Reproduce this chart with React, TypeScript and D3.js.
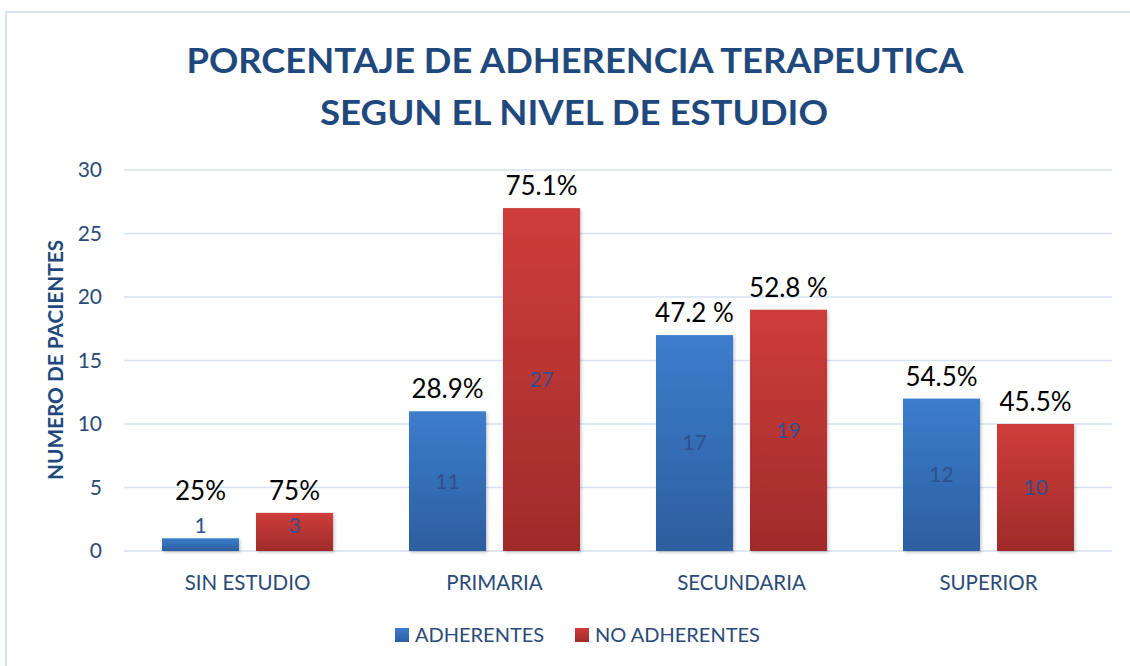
import React from "react";
import * as d3 from "d3";

const categories = ["SIN ESTUDIO", "PRIMARIA", "SECUNDARIA", "SUPERIOR"];
const seriesNames = ["ADHERENTES", "NO ADHERENTES"];
const adherentes = [1, 11, 17, 12];
const noAdherentes = [3, 27, 19, 10];
const pctAdherentes = ["25%", "28.9%", "47.2 %", "54.5%"];
const pctNoAdherentes = ["75%", "75.1%", "52.8 %", "45.5%"];
const yTicks = [0, 5, 10, 15, 20, 25, 30];

const W = 1130;
const H = 666;
const FONT = "Lato, 'Open Sans', sans-serif";
const TEXT_BLUE = "#2b4a78";

export default function App() {
  const y = d3.scaleLinear().domain([0, 30]).range([551, 170]);
  const x0 = d3
    .scaleBand<string>()
    .domain(categories)
    .range([124, 1112])
    .paddingInner(76 / 247)
    .paddingOuter(38 / 247);
  const x1 = d3
    .scaleBand<string>()
    .domain(seriesNames)
    .range([0, x0.bandwidth()])
    .paddingInner(17 / 94)
    .paddingOuter(0);

  const seriesValues = [adherentes, noAdherentes];
  const seriesPct = [pctAdherentes, pctNoAdherentes];
  const grads = ["gradBlue", "gradRed"];
  const legendColors = ["url(#gradBlue)", "url(#gradRed)"];

  return (
    <svg
      width={W}
      height={H}
      style={{ position: "absolute", left: 0, top: 0, background: "#ffffff" }}
    >
      <defs>
        <linearGradient id="gradBlue" x1="0" y1="0" x2="0" y2="1">
          <stop offset="0%" stopColor="#3c7dcd" />
          <stop offset="100%" stopColor="#2d5e9e" />
        </linearGradient>
        <linearGradient id="gradRed" x1="0" y1="0" x2="0" y2="1">
          <stop offset="0%" stopColor="#cf3d3b" />
          <stop offset="100%" stopColor="#9f2b2a" />
        </linearGradient>
        <filter id="shadow" x="-20%" y="-20%" width="140%" height="140%">
          <feDropShadow dx="1.5" dy="1.5" stdDeviation="1.5" floodColor="#000" floodOpacity="0.22" />
        </filter>
      </defs>

      {/* chart border */}
      <path d={`M6,${H} L6,12 L${W},12`} fill="none" stroke="#d7e3f5" strokeWidth={2} />

      {/* title */}
      <text
        x={575}
        y={73}
        textAnchor="middle"
        fontFamily={FONT}
        fontWeight="bold"
        fontSize={35}
        fill="#1f497d"
        textLength={777}
        lengthAdjust="spacingAndGlyphs"
      >
        PORCENTAJE DE ADHERENCIA TERAPEUTICA
      </text>
      <text
        x={574}
        y={125}
        textAnchor="middle"
        fontFamily={FONT}
        fontWeight="bold"
        fontSize={35}
        fill="#1f497d"
        textLength={508}
        lengthAdjust="spacingAndGlyphs"
      >
        SEGUN EL NIVEL DE ESTUDIO
      </text>

      {/* gridlines */}
      {yTicks.map((t) => (
        <line
          key={t}
          x1={124}
          x2={1112}
          y1={y(t)}
          y2={y(t)}
          stroke="#d6e1f1"
          strokeWidth={1.5}
        />
      ))}

      {/* y tick labels */}
      {yTicks.map((t) => (
        <text
          key={"l" + t}
          x={102}
          y={y(t)}
          dy="0.35em"
          textAnchor="end"
          fontFamily={FONT}
          fontSize={21}
          fill={TEXT_BLUE}
        >
          {t}
        </text>
      ))}

      {/* y axis title */}
      <text
        transform={`translate(63,360) rotate(-90)`}
        textAnchor="middle"
        fontFamily={FONT}
        fontWeight="bold"
        fontSize={20}
        fill="#1f497d"
        textLength={240}
        lengthAdjust="spacingAndGlyphs"
      >
        NUMERO DE PACIENTES
      </text>

      {/* bars */}
      {categories.map((c, i) => (
        <g key={c} transform={`translate(${x0(c)},0)`}>
          {seriesNames.map((s, j) => {
            const v = seriesValues[j][i];
            const bx = x1(s)!;
            const bw = x1.bandwidth();
            const top = y(v);
            const labelY = Math.min(top - 22, y(4.7));
            const valY = Math.min((top + y(0)) / 2, y(0) - 25);
            return (
              <g key={s}>
                <rect
                  x={bx}
                  y={top}
                  width={bw}
                  height={y(0) - top}
                  fill={`url(#${grads[j]})`}
                  filter="url(#shadow)"
                />
                <text
                  x={bx + bw / 2}
                  y={valY}
                  dy="0.35em"
                  textAnchor="middle"
                  fontFamily={FONT}
                  fontSize={21}
                  fill="#2f5090"
                >
                  {v}
                </text>
                <text
                  x={bx + bw / 2}
                  y={labelY}
                  dy="0.35em"
                  textAnchor="middle"
                  fontFamily={FONT}
                  fontSize={26}
                  fill="#000000"
                >
                  {seriesPct[j][i]}
                </text>
              </g>
            );
          })}
        </g>
      ))}

      {/* category labels */}
      {categories.map((c) => (
        <text
          key={"c" + c}
          x={x0(c)! + x0.bandwidth() / 2}
          y={590}
          textAnchor="middle"
          fontFamily={FONT}
          fontSize={20.5}
          fill={TEXT_BLUE}
        >
          {c}
        </text>
      ))}

      {/* legend */}
      {seriesNames.map((s, j) => {
        const lx = [395, 575][j];
        return (
          <g key={"lg" + s}>
            <rect x={lx} y={628} width={14} height={14} fill={legendColors[j]} />
            <text
              x={lx + 20}
              y={642}
              fontFamily={FONT}
              fontSize={20}
              fill={TEXT_BLUE}
            >
              {s}
            </text>
          </g>
        );
      })}
    </svg>
  );
}
